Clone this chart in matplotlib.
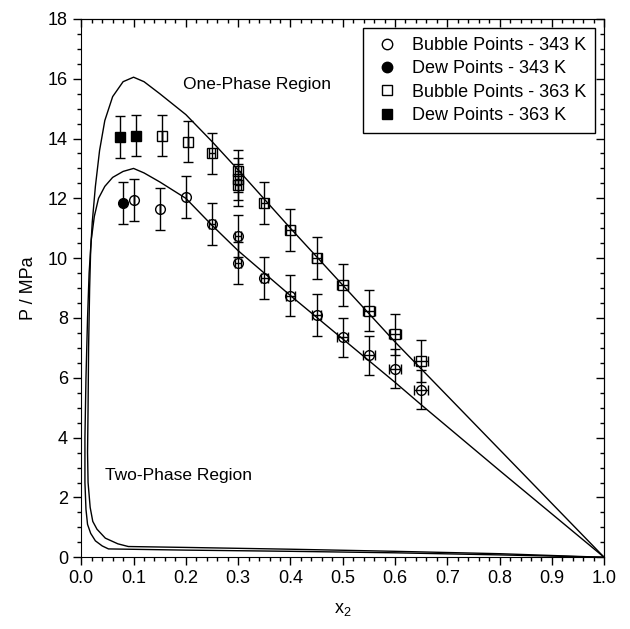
import matplotlib
matplotlib.use('Agg')
import matplotlib.pyplot as plt
from matplotlib.ticker import MultipleLocator

plt.rcParams['font.family'] = ['Liberation Sans', 'DejaVu Sans']

# Points expérimentaux - 343 K
bulle_343_x = [0.10, 0.15, 0.20, 0.25, 0.30, 0.30, 0.35, 0.40, 0.45, 0.50, 0.55, 0.60, 0.65]
bulle_343_p = [11.95, 11.65, 12.05, 11.15, 10.75, 9.85, 9.35, 8.75, 8.1, 7.35, 6.75, 6.3, 5.6]
bulle_343_xerr = [0.0, 0.0, 0.0, 0.005, 0.006, 0.006, 0.007, 0.008, 0.009, 0.010, 0.011, 0.012, 0.013]
bulle_343_perr = [0.7, 0.7, 0.7, 0.7, 0.7, 0.7, 0.7, 0.7, 0.7, 0.65, 0.65, 0.65, 0.65]
rosee_343_x = [0.08]
rosee_343_p = [11.85]
rosee_343_perr = [0.7]

# Points expérimentaux - 363 K
bulle_363_x = [0.155, 0.205, 0.25, 0.30, 0.30, 0.30, 0.35, 0.40, 0.45, 0.50, 0.55, 0.60, 0.65]
bulle_363_p = [14.1, 13.9, 13.5, 12.9, 12.65, 12.45, 11.85, 10.95, 10.0, 9.1, 8.25, 7.45, 6.55]
bulle_363_xerr = [0.0, 0.0, 0.005, 0.006, 0.006, 0.006, 0.007, 0.008, 0.009, 0.010, 0.011, 0.012, 0.013]
bulle_363_perr = [0.7, 0.7, 0.7, 0.7, 0.7, 0.7, 0.7, 0.7, 0.7, 0.7, 0.7, 0.7, 0.7]
rosee_363_x = [0.075, 0.105]
rosee_363_p = [14.05, 14.1]
rosee_363_perr = [0.7, 0.7]

# Courbes calculées (enveloppes de phase)
courbe_343_x = [1.0, 0.8, 0.65, 0.6, 0.5, 0.4, 0.3, 0.25, 0.2, 0.15, 0.12, 0.1,
                0.08, 0.06, 0.045, 0.033, 0.025, 0.019, 0.015, 0.012, 0.009, 0.007,
                0.007, 0.009, 0.012, 0.018, 0.027, 0.04, 0.052, 0.2, 0.4, 0.6, 0.8, 1.0]
courbe_343_p = [0.0, 2.9, 5.1, 5.85, 7.3, 8.75, 10.25, 11.1, 12.0, 12.55, 12.85, 13.0,
                12.9, 12.7, 12.4, 12.0, 11.4, 10.6, 9.5, 8.0, 6.0, 4.0,
                2.5, 1.6, 1.1, 0.8, 0.55, 0.38, 0.28, 0.24, 0.2, 0.15, 0.08, 0.0]
courbe_363_x = [1.0, 0.8, 0.65, 0.6, 0.5, 0.4, 0.3, 0.25, 0.2, 0.15, 0.12, 0.1,
                0.08, 0.06, 0.045, 0.035, 0.027, 0.021, 0.018, 0.016, 0.014, 0.013,
                0.012, 0.013, 0.017, 0.022, 0.03, 0.046, 0.07, 0.09, 0.2, 0.4, 0.6, 0.8, 1.0]
courbe_363_p = [0.0, 3.6, 6.3, 7.2, 9.1, 11.0, 12.95, 13.9, 14.8, 15.5, 15.9, 16.05,
                15.9, 15.4, 14.6, 13.6, 12.4, 11.2, 10.3, 9.0, 7.0, 5.0,
                3.5, 2.5, 1.67, 1.2, 0.94, 0.64, 0.45, 0.36, 0.33, 0.27, 0.2, 0.12, 0.0]

fig = plt.figure(figsize=(6.3, 6.29), dpi=100)
ax = fig.add_axes([0.129, 0.114, 0.83, 0.856])

ax.plot(courbe_343_x, courbe_343_p, color='black', linewidth=1.0)
ax.plot(courbe_363_x, courbe_363_p, color='black', linewidth=1.0)

eb = dict(ecolor='black', elinewidth=1.0, capsize=3.5, capthick=1.0, linestyle='none')
ax.errorbar(bulle_343_x, bulle_343_p, yerr=bulle_343_perr, xerr=bulle_343_xerr,
            marker='o', ms=7, mfc='none', mec='black', mew=1.0, **eb)
ax.errorbar(rosee_343_x, rosee_343_p, yerr=rosee_343_perr,
            marker='o', ms=7, mfc='black', mec='black', **eb)
ax.errorbar(bulle_363_x, bulle_363_p, yerr=bulle_363_perr, xerr=bulle_363_xerr,
            marker='s', ms=6.5, mfc='none', mec='black', mew=1.0, **eb)
ax.errorbar(rosee_363_x, rosee_363_p, yerr=rosee_363_perr,
            marker='s', ms=6.5, mfc='black', mec='black', **eb)

# Légende (marqueurs seuls)
h1, = ax.plot([], [], 'o', ms=7.5, mfc='none', mec='black', label='Bubble Points - 343 K')
h2, = ax.plot([], [], 'o', ms=7.5, mfc='black', mec='black', label='Dew Points - 343 K')
h3, = ax.plot([], [], 's', ms=6.5, mfc='none', mec='black', label='Bubble Points - 363 K')
h4, = ax.plot([], [], 's', ms=6.5, mfc='black', mec='black', label='Dew Points - 363 K')
leg = ax.legend(handles=[h1, h2, h3, h4], loc='upper right', fontsize=13,
                fancybox=False, edgecolor='black', framealpha=1,
                borderaxespad=0.5, handletextpad=0.6, labelspacing=0.35,
                handlelength=1.6, borderpad=0.5)
leg.get_frame().set_linewidth(1.0)

ax.text(0.195, 15.8, 'One-Phase Region', fontsize=12.5, va='center')
ax.text(0.045, 2.75, 'Two-Phase Region', fontsize=12.5, va='center')

ax.set_xlim(0, 1.0)
ax.set_ylim(0, 18)
ax.xaxis.set_major_locator(MultipleLocator(0.1))
ax.xaxis.set_minor_locator(MultipleLocator(0.02))
ax.yaxis.set_major_locator(MultipleLocator(2))
ax.yaxis.set_minor_locator(MultipleLocator(0.5))
ax.xaxis.set_major_formatter(matplotlib.ticker.FormatStrFormatter('%.1f'))

ax.tick_params(which='both', direction='out', labelsize=13, width=1.0)
ax.tick_params(which='major', length=6)
ax.tick_params(which='minor', length=3)
ax_top = ax.secondary_xaxis('top')
ax_top.xaxis.set_major_locator(MultipleLocator(0.1))
ax_top.xaxis.set_minor_locator(MultipleLocator(0.02))
ax_top.tick_params(which='both', direction='in', labeltop=False, width=1.0)
ax_top.tick_params(which='major', length=6)
ax_top.tick_params(which='minor', length=3)
ax_right = ax.secondary_yaxis('right')
ax_right.yaxis.set_major_locator(MultipleLocator(2))
ax_right.yaxis.set_minor_locator(MultipleLocator(0.5))
ax_right.tick_params(which='both', direction='in', labelright=False, width=1.0)
ax_right.tick_params(which='major', length=6)
ax_right.tick_params(which='minor', length=3)

ax.set_xlabel('$\\mathregular{x_2}$', fontsize=13, labelpad=10)
ax.set_ylabel('P / MPa', fontsize=13, labelpad=8)

fig.savefig('out.png', dpi=100)
